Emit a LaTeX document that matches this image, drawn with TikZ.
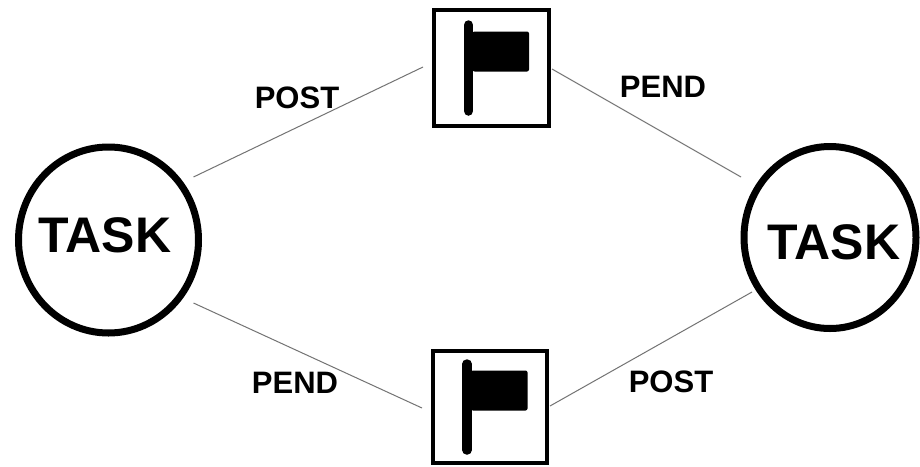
\documentclass[tikz,border=0pt]{standalone}
\usepackage{fontspec}
\setmainfont{Liberation Sans}
\usetikzlibrary{shapes.geometric}
\tikzset{
  pics/flagicon/.style={code={
    \draw[line width=9.5pt, line cap=round] (-23,-43) -- (-23,43);
    \fill[rounded corners=2pt] (-19,-36.5) rectangle (37.5,3.5);
  }}
}
\newcommand{\tasktext}[2]{\smash{\raisebox{#2}{\makebox[0pt]{\hspace*{#1}TASK}}}}
\begin{document}
\begin{tikzpicture}[x=1pt,y=-1pt,
  taskbox/.style={ellipse, draw=black, line width=7pt, inner sep=0pt,
    font=\fontsize{50}{50}\selectfont\bfseries},
  flagbox/.style={rectangle, draw=black, line width=4pt, inner sep=0pt},
  conn/.style={draw=black!55, line width=1pt},
  lbl/.style={font=\fontsize{31}{31}\selectfont\bfseries, inner sep=0pt}]
  \fill[white] (0,0) rectangle (920,466);
  \useasboundingbox (0,0) rectangle (920,466);

  \node[taskbox, minimum width=180pt, minimum height=186pt] (L) at (108.5,240)
    {\tasktext{-7pt}{-12.5pt}};
  \node[taskbox, minimum width=172pt, minimum height=182pt] (R) at (830,237.5)
    {\tasktext{8pt}{-21.5pt}};
  \node[flagbox, minimum width=115pt, minimum height=116pt] (T) at (491.5,68) {};
  \node[flagbox, minimum width=114pt, minimum height=112pt] (B) at (490,407) {};
  \pic at (T.center) {flagicon};
  \pic at (B.center) {flagicon};

  \draw[conn] ([shift={(85,-63)}]L.center) -- ([shift={(-68.5,-1)}]T.center);
  \draw[conn] ([shift={(60.5,1)}]T.center) -- ([shift={(-89,-60.5)}]R.center);
  \draw[conn] ([shift={(85,63)}]L.center) -- ([shift={(-68,1)}]B.center);
  \draw[conn] ([shift={(60,-1)}]B.center) -- ([shift={(-78,54.5)}]R.center);

  \node[lbl] (l1) at (297,98) {POST};
  \node[lbl] (l2) at (663,87) {PEND};
  \node[lbl] (l3) at (295,383) {PEND};
  \node[lbl] (l4) at (671,382) {POST};
\end{tikzpicture}
\end{document}
